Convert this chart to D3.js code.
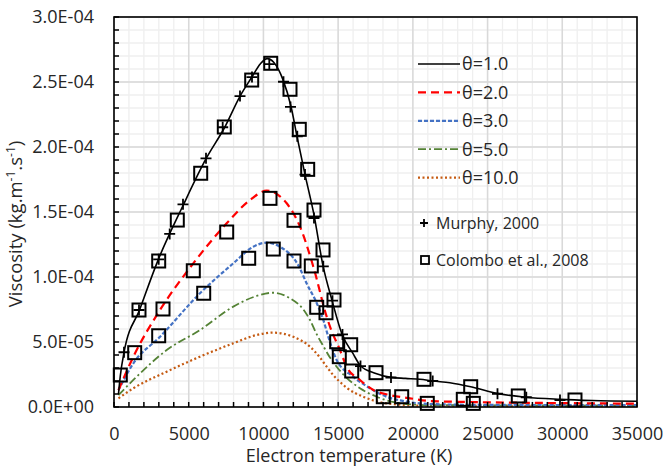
<!DOCTYPE html>
<html>
<head>
<meta charset="utf-8">
<script src="https://cdn.jsdelivr.net/npm/d3@7"></script>
<style>
  body { margin: 0; background: #fff; }
  svg { font-family: "Open Sans", sans-serif; }
  .tick text { fill: #262626; }
</style>
</head>
<body>
<svg width="664" height="468"></svg>
<script>
const svg = d3.select('svg');

// viscosity values below are in units of 1e-6 kg/(m.s)
const theta1T = [300, 422, 670, 1720, 2950, 4620, 6160, 7400, 8430, 9240, 9800, 10250, 10700, 11300, 11850, 12250, 12780, 13380, 13990, 14590, 15260, 16000, 16510, 17470, 18540, 19500, 20480, 21350, 22480, 23870, 25610, 27570, 29850, 32000, 35000];
const theta1V = [10, 24, 42, 75, 113, 155, 191, 215, 239, 254, 264, 268, 265, 252, 231, 208, 179, 148, 108.5, 82, 56, 41, 31.5, 26, 22.8, 22, 21.3, 20, 18.7, 15.6, 10.5, 7.5, 5.9, 5, 4.4];

const theta2T = [300, 1295, 3078, 5307, 7542, 9101, 10220, 11000, 11557, 12447, 13340, 14233, 14455, 15124, 15570, 16462, 17353, 18470, 19808, 21147, 24000, 28000, 35000];
const theta2V = [13, 38.7, 74.6, 110.5, 141.3, 159.2, 166.4, 163, 156.7, 138.7, 107.9, 69.5, 61.8, 43.8, 31, 20.8, 13.1, 9.2, 6.7, 4.6, 3.8, 3.2, 2.6];

const theta3T = [300, 1295, 3078, 5755, 7983, 9322, 10220, 11109, 12380, 12895, 13564, 14006, 14343, 14900, 16015, 17131, 18246, 19586, 21147, 25000, 35000];
const theta3V = [13, 33.6, 54, 87.5, 110.5, 123.3, 126.4, 123.3, 108, 95, 80, 67, 54, 36.2, 23.3, 14.4, 7.9, 4.1, 2.3, 1.6, 1.5];

const theta5T = [300, 1295, 3527, 5755, 7983, 9546, 10660, 11778, 12670, 13117, 13564, 14000, 14455, 14900, 15345, 16462, 17579, 18916, 21000, 35000];
const theta5V = [9.2, 20.8, 43.8, 59.2, 77.2, 85.4, 87.9, 83.6, 75, 66.9, 56, 47, 38, 31, 25, 14.4, 7.9, 3.3, 1.5, 1];

const theta10T = [300, 1295, 3527, 5755, 7983, 9546, 10660, 12000, 13117, 13785, 14233, 14677, 15345, 15570, 16685, 18246, 21000, 35000];
const theta10V = [6.7, 14.4, 27.2, 38.7, 49, 55.4, 57.2, 54, 46.4, 38, 31, 24.5, 17, 14.8, 7.9, 2.8, 1, 0.8];

const murphyT = [669, 1673, 2991, 3727, 4617, 6157, 7274, 8432, 9235, 10393, 11343, 11811, 12266, 12782, 13384, 14006, 14622, 15291, 16496, 18537, 21328, 25664, 27591, 29846];
const murphyV = [42.1, 74.6, 113.6, 133.1, 155.9, 191.3, 215.2, 239.2, 253.8, 263.8, 250.2, 230.8, 208.2, 178.8, 145.4, 108.2, 81.8, 55.8, 31.5, 22.7, 20.0, 10.2, 7.5, 5.4];

const colomboT = [422, 1385, 1673, 3279, 2991, 2991, 4236, 5802, 7381, 9215, 10487, 11778, 12400, 12962, 13384, 6003, 5307, 7542, 9014, 10440, 10660, 12046, 12046, 13204, 13987, 13565, 14722, 14187, 14903, 15840, 15077, 15907, 17533, 18022, 19253, 20745, 20966, 23871, 23376, 24045, 27056, 30850];
const colomboV = [24.6, 41.8, 74.6, 75.4, 54.8, 112.3, 143.8, 179.8, 215.4, 251.5, 264.4, 244.4, 213.6, 182.8, 151.5, 87.5, 104.8, 134.6, 114.4, 160.5, 121.5, 143.6, 112.3, 108.5, 120.8, 76.7, 82.3, 72.5, 50.2, 47.9, 38.7, 27.7, 26.4, 7.9, 7.9, 21.3, 2.8, 15.6, 5.9, 2.8, 8.5, 5.4];

const seriesNames = ['θ=1.0', 'θ=2.0', 'θ=3.0', 'θ=5.0', 'θ=10.0'];
const xTickValues = [0, 5000, 10000, 15000, 20000, 25000, 30000, 35000];
const yTickValues = [0, 5e-5, 1e-4, 1.5e-4, 2e-4, 2.5e-4, 3e-4];

const pLeft = 114, pRight = 637, pTop = 17, pBottom = 407;
const x = d3.scaleLinear().domain([0, 35000]).range([pLeft, pRight]);
const y = d3.scaleLinear().domain([0, 3e-4]).range([pBottom, pTop]);

const fmtE = v => {
  if (v === 0) return '0.0E+00';
  const e = Math.floor(Math.log10(v) + 1e-9);
  const m = v / Math.pow(10, e);
  return m.toFixed(1) + 'E' + (e < 0 ? '-' : '+') + String(Math.abs(e)).padStart(2, '0');
};

// gridlines
const minorX = d3.range(0, 35001, 1000), minorY = d3.range(0, 3.0001e-4, 1e-5);
svg.append('g').selectAll('line').data(minorX).join('line')
  .attr('x1', d => x(d)).attr('x2', d => x(d)).attr('y1', pTop).attr('y2', pBottom)
  .attr('stroke', '#efefef').attr('stroke-width', 1.3);
svg.append('g').selectAll('line').data(minorY).join('line')
  .attr('y1', d => y(d)).attr('y2', d => y(d)).attr('x1', pLeft).attr('x2', pRight)
  .attr('stroke', '#efefef').attr('stroke-width', 1.3);
svg.append('g').selectAll('line').data(xTickValues).join('line')
  .attr('x1', d => x(d)).attr('x2', d => x(d)).attr('y1', pTop).attr('y2', pBottom)
  .attr('stroke', '#d9d9d9').attr('stroke-width', 1.5);
svg.append('g').selectAll('line').data(yTickValues).join('line')
  .attr('y1', d => y(d)).attr('y2', d => y(d)).attr('x1', pLeft).attr('x2', pRight)
  .attr('stroke', '#d9d9d9').attr('stroke-width', 1.5);

// curves
const styles = [
  {color: '#000000', dash: null, width: 1.6},
  {color: '#ff0000', dash: '8,5', width: 2.2},
  {color: '#4472c4', dash: '4,2', width: 2.2},
  {color: '#548235', dash: '8,3,2,3', width: 1.8},
  {color: '#c55a11', dash: '2,2.5', width: 2.2}
];
const curves = [[theta1T, theta1V], [theta2T, theta2V], [theta3T, theta3V], [theta5T, theta5V], [theta10T, theta10V]];
const line = d3.line().x(d => x(d[0])).y(d => y(d[1] * 1e-6)).curve(d3.curveMonotoneX);

svg.append('g').selectAll('path').data(curves.slice().reverse()).join('path')
  .attr('d', d => line(d3.zip(d[0], d[1])))
  .attr('fill', 'none')
  .attr('stroke', (d, i) => styles[4 - i].color)
  .attr('stroke-width', (d, i) => styles[4 - i].width)
  .attr('stroke-dasharray', (d, i) => styles[4 - i].dash);

// markers
const crossPath = s => `M${-s},0H${s}M0,${-s}V${s}`;
svg.append('g').selectAll('path').data(d3.zip(murphyT, murphyV)).join('path')
  .attr('transform', d => `translate(${x(d[0])},${y(d[1] * 1e-6)})`)
  .attr('d', crossPath(5.5)).attr('stroke', '#000').attr('stroke-width', 1.8);
svg.append('g').selectAll('rect').data(d3.zip(colomboT, colomboV)).join('rect')
  .attr('x', d => x(d[0]) - 6.5).attr('y', d => y(d[1] * 1e-6) - 6.5)
  .attr('width', 13).attr('height', 13)
  .attr('fill', 'none').attr('stroke', '#000').attr('stroke-width', 2);

// axes
const xAxis = d3.axisBottom(x).tickValues(xTickValues).tickSize(0).tickPadding(20).tickFormat(d3.format('d'));
svg.append('g').attr('transform', `translate(0,${pBottom})`).call(xAxis)
  .call(g => g.select('.domain').remove())
  .selectAll('text').attr('font-size', 18).attr('font-family', '"Open Sans", sans-serif');
const yAxis = d3.axisLeft(y).tickValues(yTickValues).tickSize(0).tickPadding(20).tickFormat(fmtE);
svg.append('g').attr('transform', `translate(${pLeft},0)`).call(yAxis)
  .call(g => g.select('.domain').remove())
  .selectAll('text').attr('font-size', 18).attr('font-family', '"Open Sans", sans-serif');

// inward minor ticks
svg.append('g').selectAll('line').data(minorX).join('line')
  .attr('x1', d => x(d)).attr('x2', d => x(d)).attr('y1', pBottom).attr('y2', pBottom - 5)
  .attr('stroke', '#000').attr('stroke-width', 1.5);
svg.append('g').selectAll('line').data(minorY).join('line')
  .attr('y1', d => y(d)).attr('y2', d => y(d)).attr('x1', pLeft).attr('x2', pLeft + 5)
  .attr('stroke', '#000').attr('stroke-width', 1.5);

svg.append('rect').attr('x', pLeft).attr('y', pTop).attr('width', pRight - pLeft).attr('height', pBottom - pTop)
  .attr('fill', 'none').attr('stroke', '#000').attr('stroke-width', 1.6);

// axis titles
svg.append('text').attr('x', 349).attr('y', 462).attr('text-anchor', 'middle')
  .attr('font-size', 18).attr('fill', '#262626').text('Electron temperature (K)');
const yt = svg.append('text').attr('transform', 'translate(22,224) rotate(-90)')
  .attr('text-anchor', 'middle').attr('font-size', 18.5).attr('fill', '#262626');
yt.append('tspan').text('Viscosity (kg.m');
yt.append('tspan').attr('dy', -7).attr('font-size', 12).text('-1');
yt.append('tspan').attr('dy', 7).text('.s');
yt.append('tspan').attr('dy', -7).attr('font-size', 12).text('-1');
yt.append('tspan').attr('dy', 7).text(')');

// legend
const legend = svg.append('g');
seriesNames.forEach((name, i) => {
  const ly = 64 + i * 28.4;
  legend.append('line').attr('x1', 418).attr('x2', 460).attr('y1', ly).attr('y2', ly)
    .attr('stroke', styles[i].color).attr('stroke-width', styles[i].width)
    .attr('stroke-dasharray', styles[i].dash);
  legend.append('text').attr('x', 462).attr('y', ly).attr('dy', '0.35em')
    .attr('font-size', 18).attr('fill', '#262626').text(name);
});
legend.append('path').attr('transform', 'translate(424,223)').attr('d', crossPath(4))
  .attr('stroke', '#000').attr('stroke-width', 1.8);
legend.append('text').attr('x', 436).attr('y', 223).attr('dy', '0.35em')
  .attr('font-size', 16).attr('fill', '#262626').text('Murphy, 2000');
legend.append('rect').attr('x', 421).attr('y', 256).attr('width', 8).attr('height', 8)
  .attr('fill', 'none').attr('stroke', '#000').attr('stroke-width', 1.8);
legend.append('text').attr('x', 436).attr('y', 260).attr('dy', '0.35em')
  .attr('font-size', 16).attr('fill', '#262626').text('Colombo et al., 2008');
</script>
</body>
</html>
